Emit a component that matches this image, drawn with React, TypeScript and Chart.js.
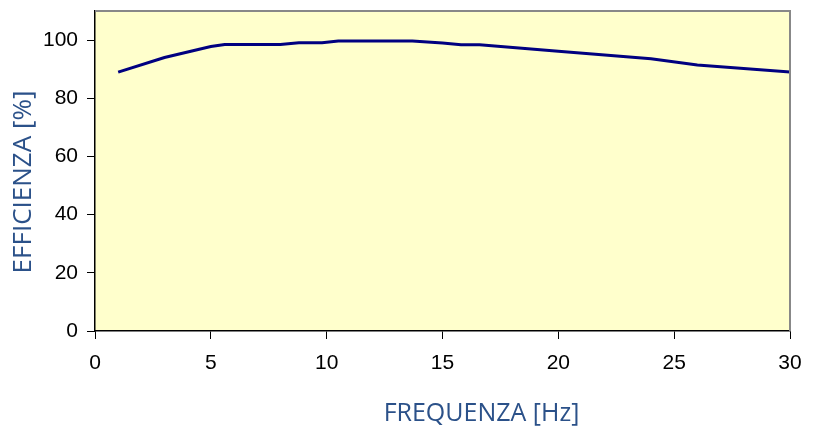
import React, { useEffect, useRef } from "react";
import { Chart, registerables } from "chart.js";

Chart.register(...registerables);

const frequencies = [1, 3, 5, 5.6, 8, 8.8, 9.8, 10.5, 13.7, 15, 15.8, 16.6, 20, 24, 26, 30];
const efficiency = [89, 94, 97.8, 98.5, 98.5, 99.1, 99.1, 99.7, 99.7, 99, 98.4, 98.4, 96.2, 93.6, 91.4, 89];
const xTicks = [0, 5, 10, 15, 20, 25, 30];
const yTicks = [0, 20, 40, 60, 80, 100];
const xTitle = "FREQUENZA [Hz]";
const yTitle = "EFFICIENZA [%]";

const TITLE_COLOR = "#2B5189";
const FAMILY = "'Open Sans', 'Liberation Sans', sans-serif";

const plotDecor = {
  id: "plotDecor",
  beforeDraw(chart: any) {
    const { ctx, chartArea: a } = chart;
    ctx.save();
    ctx.fillStyle = "#FFFFCC";
    ctx.fillRect(a.left, a.top, a.right - a.left, a.bottom - a.top);
    ctx.restore();
  },
  afterDraw(chart: any) {
    const { ctx, chartArea: a } = chart;
    ctx.save();
    ctx.strokeStyle = "#888888";
    ctx.lineWidth = 2;
    ctx.beginPath();
    ctx.moveTo(a.left, a.top);
    ctx.lineTo(a.right, a.top);
    ctx.lineTo(a.right, a.bottom);
    ctx.stroke();

    ctx.fillStyle = TITLE_COLOR;
    ctx.textAlign = "center";
    ctx.textBaseline = "middle";
    ctx.font = "25px " + FAMILY;
    ctx.fillText(xTitle, (a.left + a.right) / 2 + 39, chart.height - 15);
    ctx.font = "26px " + FAMILY;
    ctx.translate(24, (a.top + a.bottom) / 2 + 11);
    ctx.rotate(-Math.PI / 2);
    ctx.fillText(yTitle, 0, 0);
    ctx.restore();
  },
};

export default function App() {
  const ref = useRef<HTMLCanvasElement | null>(null);
  useEffect(() => {
    if (!ref.current) return;
    const chart = new Chart(ref.current, {
      type: "line",
      data: {
        datasets: [
          {
            data: frequencies.map((f, i) => ({ x: f, y: efficiency[i] })),
            borderColor: "#000080",
            borderWidth: 3,
            pointRadius: 0,
            tension: 0,
            fill: false,
          },
        ],
      },
      options: {
        animation: false,
        responsive: true,
        maintainAspectRatio: false,
        layout: { padding: { left: 0, top: 11, right: 27, bottom: 0 } },
        plugins: { legend: { display: false }, tooltip: { enabled: false } },
        scales: {
          x: {
            type: "linear",
            min: 0,
            max: 30,
            afterBuildTicks: (s: any) => {
              s.ticks = xTicks.map((v) => ({ value: v }));
            },
            afterFit: (s: any) => {
              s.height = 98;
              s.paddingLeft = 0;
              s.paddingRight = 0;
            },
            ticks: {
              color: "#000",
              padding: 12,
              maxRotation: 0,
              font: { family: "'Liberation Sans', Arial, sans-serif", size: 21 },
            },
            grid: { drawOnChartArea: false, drawTicks: true, tickLength: 8, color: "#000", tickWidth: 1 },
            border: { display: true, color: "#000", width: 1.5 },
          },
          y: {
            type: "linear",
            min: 0,
            max: 110,
            afterBuildTicks: (s: any) => {
              s.ticks = yTicks.map((v) => ({ value: v }));
            },
            afterFit: (s: any) => {
              s.width = 95;
              s.paddingTop = 0;
              s.paddingBottom = 0;
            },
            ticks: {
              color: "#000",
              padding: 9,
              font: { family: "'Liberation Sans', Arial, sans-serif", size: 21 },
            },
            grid: { drawOnChartArea: false, drawTicks: true, tickLength: 8, color: "#000", tickWidth: 1 },
            border: { display: true, color: "#000", width: 1.5 },
          },
        },
      },
      plugins: [plotDecor],
    });
    return () => chart.destroy();
  }, []);
  return (
    <div style={{ position: "absolute", left: 0, top: 0, width: 817, height: 429, background: "#fff" }}>
      <canvas ref={ref} />
    </div>
  );
}
